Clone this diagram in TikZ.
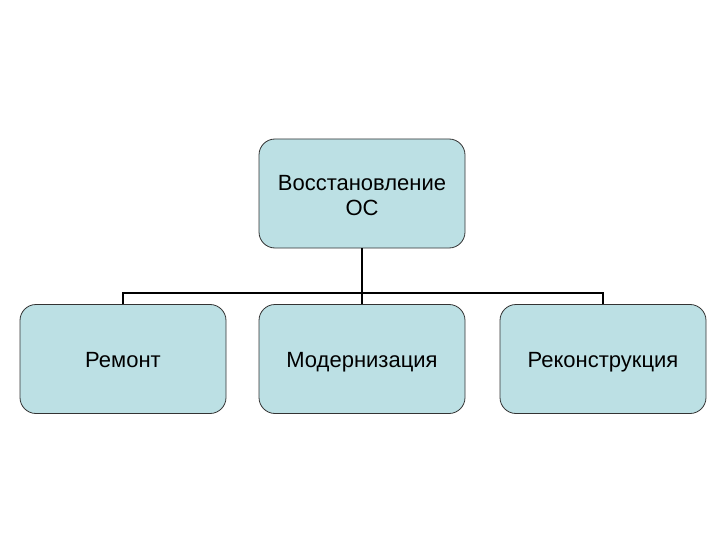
\documentclass[tikz,border=0pt]{standalone}
\usepackage{fontspec}
\setmainfont{Liberation Sans}
\definecolor{boxfill}{RGB}{188,224,228}
\begin{document}
\begin{tikzpicture}[x=1pt,y=-1pt,
  nbox/.style={draw=black!80,line width=0.8pt,fill=boxfill,rounded corners=16pt,
    minimum width=206pt,minimum height=109pt,inner sep=0pt,align=center,
    font=\fontsize{22}{24.5}\selectfont},
  onel/.style={text height=19.8pt,text depth=2.4pt},
  conn/.style={line width=2pt,black}]
\useasboundingbox (0,0) rectangle (720,540);
\node[nbox,text height=45pt,text depth=1.6pt] (top) at (362,193.5) {Восстановление\\ОС};
\node[nbox,onel] (b1) at (123,359) {Ремонт};
\node[nbox,onel] (b2) at (362,359) {Модернизация};
\node[nbox,onel] (b3) at (603,359) {Реконструкция};
\coordinate (hy) at (0,293);
\draw[conn] (top.south) -- (top.south |- hy);
\draw[conn] (b1.north) -- (b1.north |- hy) -- (b3.north |- hy) -- (b3.north);
\draw[conn] (b2.north) -- (b2.north |- hy);
\end{tikzpicture}
\end{document}
